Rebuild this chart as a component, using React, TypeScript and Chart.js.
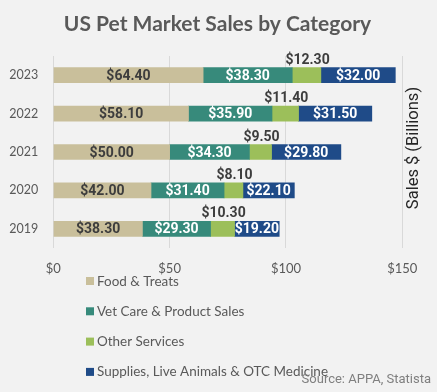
import React, { useEffect, useRef } from "react";
import { Chart, registerables } from "chart.js";

Chart.register(...registerables);

const years = ["2023", "2022", "2021", "2020", "2019"];
const seriesNames = [
  "Food & Treats",
  "Vet Care & Product Sales",
  "Other Services",
  "Supplies, Live Animals & OTC Medicine",
];
const foodTreats = [64.4, 58.1, 50.0, 42.0, 38.3];
const vetCare = [38.3, 35.9, 34.3, 31.4, 29.3];
const otherServices = [12.3, 11.4, 9.5, 8.1, 10.3];
const supplies = [32.0, 31.5, 29.8, 22.1, 19.2];
const xTickValues = [0, 50, 100, 150];
const titleText = "US Pet Market Sales by Category";
const axisTitleText = "Sales $ (Billions)";
const sourceText = "Source: APPA, Statista";

const seriesColors = ["#c9bf9b", "#378a7b", "#9cbf5a", "#1f4b88"];
const labelColors = ["#3d3d3d", "#ffffff", "#3d3d3d", "#ffffff"];
const labelAbove = [false, false, true, false];

const GRAY = "#595959";

export default function App() {
  const ref = useRef<HTMLCanvasElement>(null);

  useEffect(() => {
    document.body.style.margin = "0";
    document.body.style.background = "#f2f2f2";
    const canvas = ref.current!;
    const allSeries = [foodTreats, vetCare, otherServices, supplies];

    const bgPlugin = {
      id: "bg",
      beforeDraw(chart: any) {
        const { ctx, width, height } = chart;
        ctx.save();
        ctx.fillStyle = "#f2f2f2";
        ctx.fillRect(0, 0, width, height);
        ctx.restore();
      },
    };

    const labelPlugin = {
      id: "barLabels",
      afterDatasetsDraw(chart: any) {
        const { ctx } = chart;
        ctx.save();
        ctx.font = "bold 14px Roboto";
        ctx.textAlign = "center";
        chart.data.datasets.forEach((ds: any, i: number) => {
          const meta = chart.getDatasetMeta(i);
          meta.data.forEach((bar: any, j: number) => {
            const p = bar.getProps(["x", "y", "base", "height"], true);
            const cx = (p.x + p.base) / 2;
            const txt = "$" + Number(ds.data[j]).toFixed(2);
            ctx.fillStyle = labelColors[i];
            if (labelAbove[i]) {
              ctx.textBaseline = "alphabetic";
              ctx.fillText(txt, cx + 1, p.y - p.height / 2 - 4);
            } else {
              ctx.textBaseline = "middle";
              ctx.fillText(txt, cx, p.y + 1);
            }
          });
        });
        ctx.restore();
      },
    };

    const decorPlugin = {
      id: "decor",
      afterDraw(chart: any) {
        const { ctx, chartArea, width } = chart;
        ctx.save();
        // title
        ctx.font = "bold 21px Lato";
        ctx.fillStyle = GRAY;
        ctx.textAlign = "center";
        ctx.textBaseline = "alphabetic";
        ctx.fillText(titleText, width / 2 - 1, 31);

        // right axis title
        ctx.save();
        ctx.translate(chartArea.right + 12, (chartArea.top + chartArea.bottom) / 2 - 4);
        ctx.rotate(-Math.PI / 2);
        ctx.font = "16.5px Roboto";
        ctx.fillStyle = "#262626";
        ctx.textAlign = "center";
        ctx.textBaseline = "middle";
        ctx.fillText(axisTitleText, 0, 0);
        ctx.restore();

        // legend (narrowed horizontally so the longest entry spans ~231px)
        ctx.font = "14px Lato";
        const longest = Math.max(...seriesNames.map((n) => ctx.measureText(n).width));
        const k = Math.min(1, 231 / longest);
        ctx.textAlign = "left";
        ctx.textBaseline = "middle";
        seriesNames.forEach((name, i) => {
          const yc = chartArea.bottom + 33 + i * 30.3;
          ctx.fillStyle = seriesColors[i];
          ctx.fillRect(86, yc - 4, 8, 8);
          ctx.fillStyle = GRAY;
          ctx.save();
          ctx.translate(97, yc);
          ctx.scale(k, 1);
          ctx.fillText(name, 0, 0);
          ctx.restore();
        });

        // source
        ctx.font = "13px Roboto";
        ctx.fillStyle = "#7f7f7f";
        ctx.textAlign = "right";
        ctx.textBaseline = "alphabetic";
        ctx.fillText(sourceText, 431, 383);
        ctx.restore();
      },
    };

    const chart = new Chart(canvas, {
      type: "bar",
      data: {
        labels: years,
        datasets: allSeries.map((d, i) => ({
          label: seriesNames[i],
          data: d,
          backgroundColor: seriesColors[i],
          borderWidth: 0,
          barThickness: 15,
        })),
      },
      options: {
        indexAxis: "y",
        responsive: false,
        animation: false,
        devicePixelRatio: 1,
        layout: { padding: { top: 56, right: 34.7, bottom: 110, left: 0 } },
        plugins: {
          legend: { display: false },
          title: { display: false },
          tooltip: { enabled: false },
        },
        scales: {
          x: {
            stacked: true,
            min: 0,
            max: 150,
            afterBuildTicks: (s: any) => {
              s.ticks = xTickValues.map((v) => ({ value: v }));
            },
            afterFit: (s: any) => {
              s.height = 34;
            },
            ticks: {
              padding: 13,
              color: GRAY,
              font: { family: "Lato", size: 13 },
              callback: (v: any) => "$" + v,
            },
            grid: { color: "#d9d9d9", drawTicks: false, lineWidth: 1 },
            border: { display: false },
          },
          y: {
            stacked: true,
            afterFit: (s: any) => {
              s.width = 53.3;
            },
            ticks: {
              padding: 15,
              color: GRAY,
              font: { family: "Lato", size: 12.5 },
            },
            grid: { display: false, drawTicks: false },
            border: { display: false },
          },
        },
      },
      plugins: [bgPlugin, labelPlugin, decorPlugin],
    } as any);

    return () => chart.destroy();
  }, []);

  return (
    <canvas
      ref={ref}
      width={437}
      height={392}
      style={{ display: "block", width: 437, height: 392 }}
    />
  );
}
